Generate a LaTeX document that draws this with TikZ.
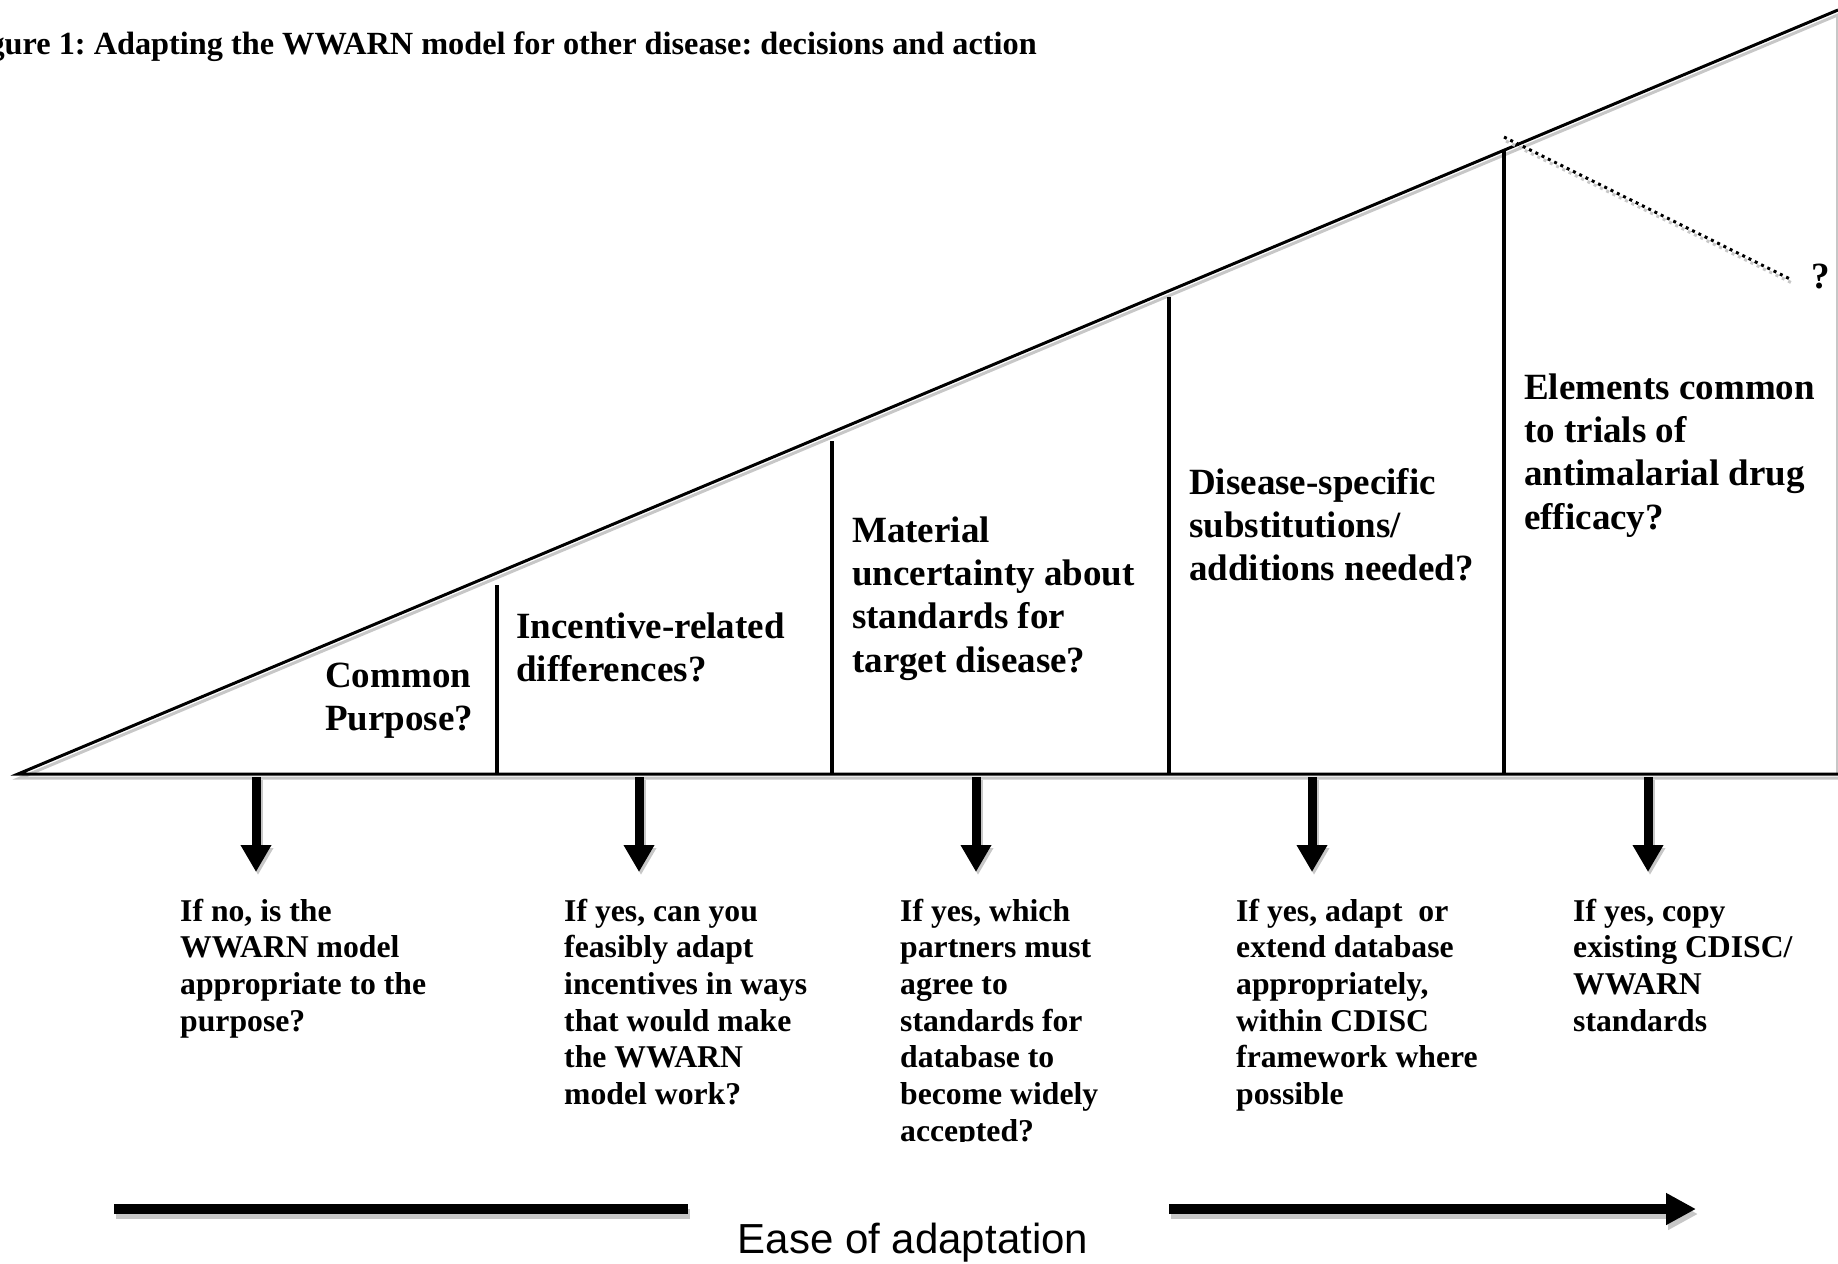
\documentclass[tikz,border=0pt]{standalone}
\usepackage{fontspec}
\setmainfont{Liberation Serif}
\setsansfont{Liberation Sans}
\usetikzlibrary{arrows.meta}
\frenchspacing
\newcommand\mystack[1]{\vtop{\halign{##\hfil\cr#1\crcr}}}
\begin{document}
\begin{tikzpicture}[x=1pt,y=-1pt,
  shade/.style={color=black!22},
  edge/.style={line width=3pt, line join=miter},
  divider/.style={line width=4.5pt},
  question/.style={font=\fontsize{37}{43.4}\selectfont\bfseries, inner sep=0pt, anchor=base west},
  note/.style={font=\fontsize{31.7}{36.7}\selectfont\bfseries, inner sep=0pt, anchor=base west},
  downarrow/.style={line width=9pt, -{Triangle[width=29pt,length=27pt]}},
  bigbar/.style={line width=10pt},
  dotline/.style={line width=3pt, dash pattern=on 3pt off 4pt}
]
\useasboundingbox (0,0) rectangle (1838,1263);

% triangle corners
\coordinate (L) at (18,774);
\coordinate (TR) at (1838,10);
\coordinate (BR) at (1838,774);

% shadows of the triangle
\draw[edge, shade] ([shift={(2,4)}]TR) -- ([shift={(2,4)}]L) -- ([shift={(2,4)}]BR);
\draw[shade, line width=2pt] (1837,14) -- (1837,774);
\draw[edge] (TR) -- (L) -- (BR);

% dividers
\coordinate (d1b) at (497,774); \coordinate (d1t) at (497,585);
\coordinate (d2b) at (832,774); \coordinate (d2t) at (832,441);
\coordinate (d3b) at (1169,774); \coordinate (d3t) at (1169,297);
\coordinate (d4b) at (1504,774); \coordinate (d4t) at (1504,151);
\draw[divider] (d1b) -- (d1t);
\draw[divider] (d2b) -- (d2t);
\draw[divider] (d3b) -- (d3t);
\draw[divider] (d4b) -- (d4t);

% dotted line and question mark
\coordinate (ds) at (1504,137);
\coordinate (de) at (1792,280);
\draw[dotline, shade] ([shift={(2,4)}]ds) -- ([shift={(2,4)}]de);
\draw[dotline] (ds) -- (de);
\node[font=\fontsize{37}{43}\selectfont\bfseries, inner sep=0pt, anchor=base] (qm) at (1821,288) {?};

% title (cut off at the left edge, as in the reference)
\node[anchor=base east, font=\fontsize{32.3}{36}\selectfont\bfseries, inner sep=0pt] (title) at (1037,55)
  {Figure 1: Adapting the WWARN model for other disease: decisions and action};

% questions
\node[question] (q1) at (325,687) {\mystack{Common\cr Purpose?}};
\node[question] (q2) at (516,638) {\mystack{Incentive-related\cr differences?}};
\node[question] (q3) at (852,542) {\mystack{Material\cr uncertainty about\cr standards for\cr target disease?}};
\node[question] (q4) at (1189,494) {\mystack{Disease-specific\cr substitutions/\cr additions needed?}};
\node[question] (q5) at (1524,399) {\mystack{Elements common\cr to trials of\cr antimalarial drug\cr efficacy?}};

% arrows down
\foreach \i/\x in {1/256,2/639,3/976,4/1312,5/1648}{
  \coordinate (a\i s) at (\x,777);
  \coordinate (a\i e) at (\x,872);
  \draw[downarrow, shade] ([shift={(2,3)}]a\i s) -- ([shift={(2,3)}]a\i e);
  \draw[downarrow] (a\i s) -- (a\i e);
}

% notes
\node[note] (n1) at (180,921) {\mystack{If no, is the\cr WWARN model\cr appropriate to the\cr purpose?}};
\node[note] (n2) at (564,921) {\mystack{If yes, can you\cr feasibly adapt\cr incentives in ways\cr that would make\cr the WWARN\cr model work?}};
\begin{scope}
\clip (0,0) rectangle (1838,1141);
\node[note] (n3) at (900,921) {\mystack{If yes, which\cr partners must\cr agree to\cr standards for\cr database to\cr become widely\cr accepted?}};
\end{scope}
\node[note] (n4) at (1236,921) {\mystack{If yes, adapt\ \ or\cr extend database\cr appropriately,\cr within CDISC\cr framework where\cr possible}};
\node[note] (n5) at (1573,921) {\mystack{If yes, copy\cr existing CDISC/\cr WWARN\cr standards}};

% ease of adaptation
\coordinate (b1s) at (114,1209); \coordinate (b1e) at (688,1209);
\coordinate (b2s) at (1169,1209); \coordinate (b2e) at (1696,1209);
\draw[bigbar, shade] ([shift={(2,5)}]b1s) -- ([shift={(2,5)}]b1e);
\draw[bigbar, shade, -{Triangle[width=30pt,length=30pt]}] ([shift={(2,5)}]b2s) -- ([shift={(2,5)}]b2e);
\draw[bigbar] (b1s) -- (b1e);
\draw[bigbar, -{Triangle[width=30pt,length=30pt]}] (b2s) -- (b2e);
\node[font=\fontsize{42}{48}\selectfont\sffamily, inner sep=0pt, anchor=base] (ease) at (913,1253) {Ease of adaptation};
\end{tikzpicture}
\end{document}
